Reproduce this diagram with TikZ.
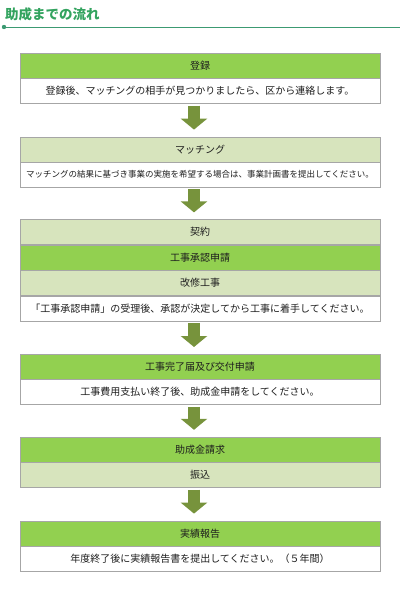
\documentclass[tikz,border=0pt]{standalone}
\usepackage{fontspec}
\setmainfont{Noto Sans CJK JP}
\usetikzlibrary{positioning,arrows.meta}
\definecolor{hdgreen}{HTML}{92D050}
\definecolor{paleolive}{HTML}{D7E4BD}
\definecolor{arrowolive}{HTML}{77933C}
\definecolor{boxgray}{HTML}{A6A6A6}
\definecolor{titlegreen}{HTML}{33A35F}
\definecolor{rulegreen}{HTML}{3C9A72}
\definecolor{textgray}{HTML}{1E1E1E}
\begin{document}
\begin{tikzpicture}[x=1pt,y=1pt,
    row/.style={draw=boxgray, minimum width=360pt, minimum height=25pt, inner sep=0pt,
      font=\fontsize{10}{12}\selectfont, text=textgray},
    hd/.style={row, fill=hdgreen},
    pale/.style={row, fill=paleolive},
    body/.style={row, fill=white},
    flow/.style={arrowolive, line width=12pt, -{Triangle[width=26pt,length=11pt]},
      shorten <=2pt, shorten >=7pt}]
    \useasboundingbox (0,0) rectangle (400,-598);

    % heading
    \node[anchor=west, inner sep=0pt, text=titlegreen,
      font=\fontsize{13.5}{15}\selectfont\bfseries] (title) at (5,-14) {助成までの流れ};
    \coordinate (rulestart) at (4,-27);
    \coordinate (ruleend) at (400,-27);
    \draw[rulegreen, line width=0.7pt] (rulestart) -- (ruleend);
    \fill[rulegreen] (rulestart) circle (2.2pt);

    % steps
    \node[hd] (reg) at (200,-65.5) {登録};
    \node[body, below=0pt of reg] (regtx) {登録後、マッチングの相手が見つかりましたら、区から連絡します。};

    \node[pale, below=33pt of regtx] (match) {マッチング};
    \node[body, below=0pt of match, font=\fontsize{8.5}{10}\selectfont] (matchtx)
      {マッチングの結果に基づき事業の実施を希望する場合は、事業計画書を提出してください。};

    \node[pale, below=32pt of matchtx] (cont) {契約};
    \node[hd, below=0pt of cont] (apply) {工事承認申請};
    \node[pale, below=0pt of apply] (work) {改修工事};
    \node[body, below=0pt of work] (worktx) {「工事承認申請」の受理後、承認が決定してから工事に着手してください。};

    \node[hd, below=33pt of worktx] (done) {工事完了届及び交付申請};
    \node[body, below=0pt of done] (donetx) {工事費用支払い終了後、助成金申請をしてください。};

    \node[hd, below=32pt of donetx] (claim) {助成金請求};
    \node[pale, below=0pt of claim] (pay) {振込};

    \node[hd, below=33pt of pay] (report) {実績報告};
    \node[body, below=0pt of report] (reporttx) {年度終了後に実績報告書を提出してください。（５年間）};

    \foreach \a/\b in {regtx/match, matchtx/cont, worktx/done, donetx/claim, pay/report}
      \draw[flow] ([xshift=-6pt]\a.south) -- ([xshift=-6pt]\b.north);
\end{tikzpicture}
\end{document}
